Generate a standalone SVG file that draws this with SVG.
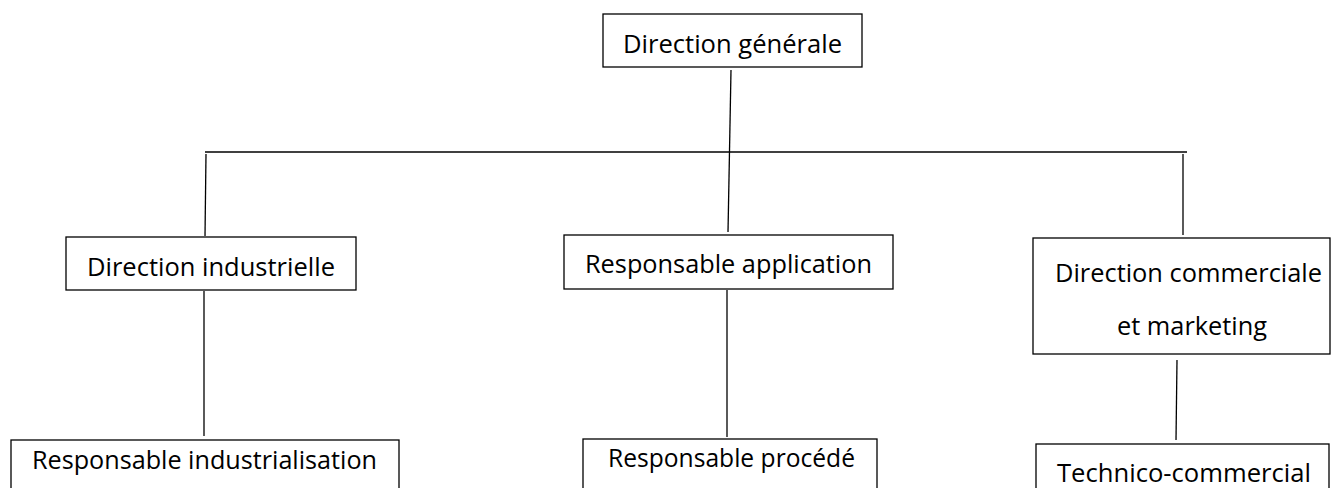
<svg xmlns="http://www.w3.org/2000/svg" width="1331" height="488" viewBox="0 0 1331 488">
<style>
.box{fill:#fff;stroke:#000;stroke-width:1.3}
.lbl{font-family:"Open Sans","Liberation Sans",sans-serif;font-size:26px;fill:#000}
.con line{stroke:#000;stroke-width:1.3;fill:none}
</style>
<rect width="1331" height="488" fill="#fff"/>
<g id="connectors" class="con">
<line x1="731" y1="70" x2="728" y2="232"/>
<line x1="205" y1="152" x2="1187" y2="152"/>
<line x1="206" y1="154" x2="205" y2="236"/>
<line x1="1183" y1="154" x2="1183" y2="235"/>
<line x1="204" y1="291" x2="204" y2="436"/>
<line x1="727" y1="290" x2="727" y2="437"/>
<line x1="1177" y1="360" x2="1176" y2="440"/>
</g>
<g id="direction-generale">
<rect class="box" x="603" y="14" width="259" height="53"/>
<text class="lbl" x="623" y="53" textLength="219" lengthAdjust="spacingAndGlyphs">Direction générale</text>
</g>
<g id="direction-industrielle">
<rect class="box" x="66" y="237" width="290" height="53"/>
<text class="lbl" x="87" y="276" textLength="248" lengthAdjust="spacingAndGlyphs">Direction industrielle</text>
</g>
<g id="responsable-application">
<rect class="box" x="564" y="235" width="329" height="54"/>
<text class="lbl" x="585" y="273" textLength="287" lengthAdjust="spacingAndGlyphs">Responsable application</text>
</g>
<g id="direction-commerciale">
<rect class="box" x="1033" y="238" width="297" height="116"/>
<text class="lbl" x="1055" y="282" textLength="267" lengthAdjust="spacingAndGlyphs">Direction commerciale</text>
<text class="lbl" x="1117" y="335" textLength="150" lengthAdjust="spacingAndGlyphs">et marketing</text>
</g>
<g id="responsable-industrialisation">
<rect class="box" x="11" y="440" width="388" height="60"/>
<text class="lbl" x="32" y="469" textLength="345" lengthAdjust="spacingAndGlyphs">Responsable industrialisation</text>
</g>
<g id="responsable-procede">
<rect class="box" x="583" y="439" width="294" height="60"/>
<text class="lbl" x="608" y="467" textLength="247" lengthAdjust="spacingAndGlyphs">Responsable procédé</text>
</g>
<g id="technico-commercial">
<rect class="box" x="1036" y="444" width="293" height="60"/>
<text class="lbl" x="1057" y="482" textLength="254" lengthAdjust="spacingAndGlyphs">Technico-commercial</text>
</g>
</svg>
